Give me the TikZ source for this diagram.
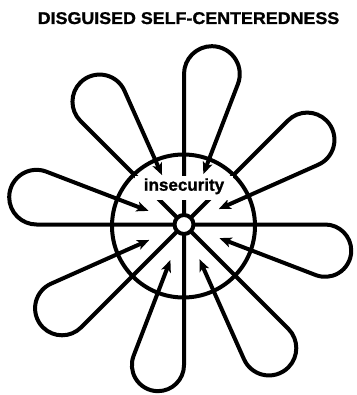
\documentclass[tikz,border=0pt]{standalone}
\usepackage{fontspec}
\setmainfont{Liberation Sans}
\newfontfamily\heavyfont[FakeBold=1.2]{Liberation Sans Bold}
\usetikzlibrary{arrows.meta,calc}
\tikzset{
  petal/.style={line width=4pt, line join=round, -{Stealth[length=12pt,width=10pt,inset=3pt]}},
  ring/.style={line width=4pt},
  label/.style={font=\heavyfont\fontsize{17}{17}\selectfont, inner sep=0pt, anchor=base},
}
\begin{document}
\begin{tikzpicture}[x=1pt,y=1pt]
\useasboundingbox (0,0) rectangle (356,-395);
\coordinate (C) at (184,-224.5);
\coordinate (BC) at (183.5,-226);
\draw[ring] (BC) circle[radius=71.5];
\foreach \t/\D/\rho in {90/153/54, 135/149/54, 180/150/38, 225/148/38, 270/143/38, 315/150/38, 0/143.5/38, 45/149.5/38}{
  \pgfmathsetmacro\T{\D*cos(10.5)}
  \pgfmathsetmacro\r{\D*sin(10.5)}
  \draw[petal] (C) -- ($(C)+(\t:\T)$) arc[start angle=\t+90, end angle=\t-111, radius=\r] -- ($(C)+(\t-21:\rho)$);
}
\draw[ring, fill=white] (C) circle[radius=9.5];
\node[label, fill=white, text height=10.7pt, text depth=4.8pt, inner ysep=4.5pt, inner xsep=0pt, minimum width=98pt] (ins) at (184,-190.7) {insecurity};
\node[label] (title) at (188.5,-24) {\scalebox{1.05}[1]{DISGUISED SELF-CENTEREDNESS}};
\end{tikzpicture}
\end{document}
